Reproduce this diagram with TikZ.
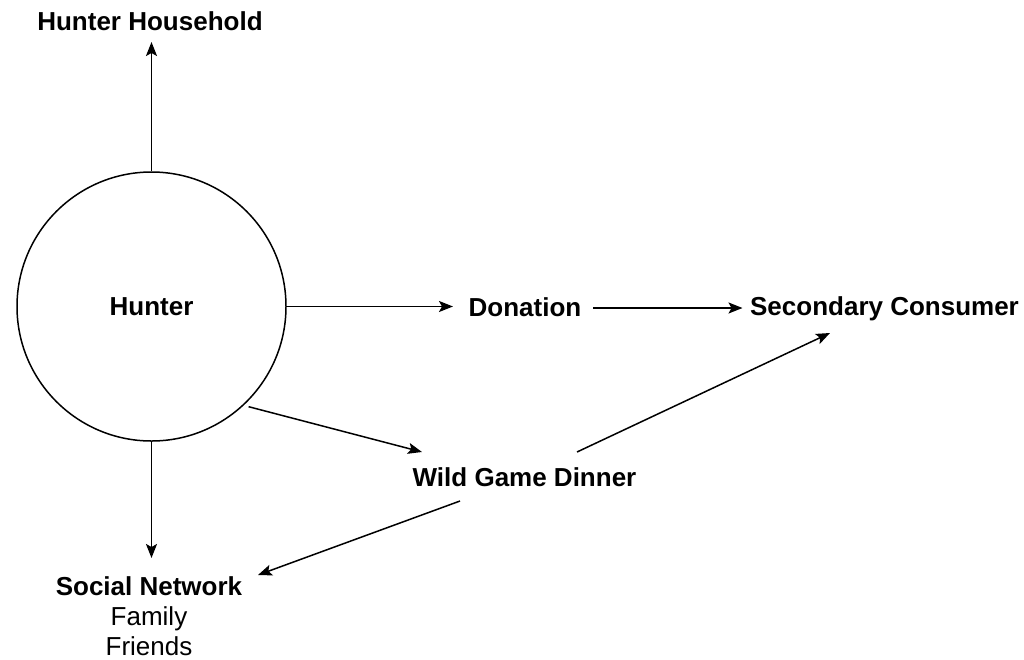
\documentclass[tikz,border=0pt]{standalone}
\usepackage{fontspec}
\setmainfont{Liberation Sans}
\usetikzlibrary{arrows.meta}
\tikzset{
  lbl/.style={inner sep=0pt, anchor=base, font=\fontsize{26}{30}\selectfont\bfseries, text=black},
  arr/.style={line width=1.5pt, draw=black, -{Stealth[length=14pt,width=11pt,inset=3pt]}},
  hub/.style={circle, draw=black, line width=1.5pt, minimum size=269pt, inner sep=0pt, font=\fontsize{26}{30}\selectfont\bfseries}
}
\begin{document}
\begin{tikzpicture}[x=1pt,y=-1pt]
\useasboundingbox (0,0) rectangle (1024,659);
\fill[white] (0,0) rectangle (1024,659);
\node[hub] (hunter) at (151.5,306.5) {Hunter};
\node[lbl] (hh) at (150,30) {Hunter Household};
\node[lbl] (don) at (525,316) {Donation};
\node[lbl] (sc) at (884.5,315) {Secondary Consumer};
\node[lbl] (wgd) at (524.5,486.7) {Wild Game Dinner};
\node[inner sep=0pt, anchor=north, align=center, font=\fontsize{26}{30}\selectfont, text=black] (sn) at (149,576)
  {\textbf{Social Network}\\Family\\Friends};
\draw[arr] (hunter.north) -- ([shift={(1.5,12)}]hh.base);
\draw[arr] (hunter.east) -- ([shift={(-72,-9.5)}]don.base);
\draw[arr] ([shift={(68,-8)}]don.base) -- ([shift={(-142,-7)}]sc.base);
\draw[arr, shorten <=5pt] (hunter.-47) -- ([shift={(-102.5,-34.7)}]wgd.base);
\draw[arr] ([shift={(52.5,-34.7)}]wgd.base) -- ([shift={(-54.5,18)}]sc.base);
\draw[arr] ([shift={(-64.5,14.3)}]wgd.base) -- ([shift={(109,-1)}]sn.north);
\draw[arr] (hunter.south) -- ([shift={(2.5,-18)}]sn.north);
\end{tikzpicture}
\end{document}
